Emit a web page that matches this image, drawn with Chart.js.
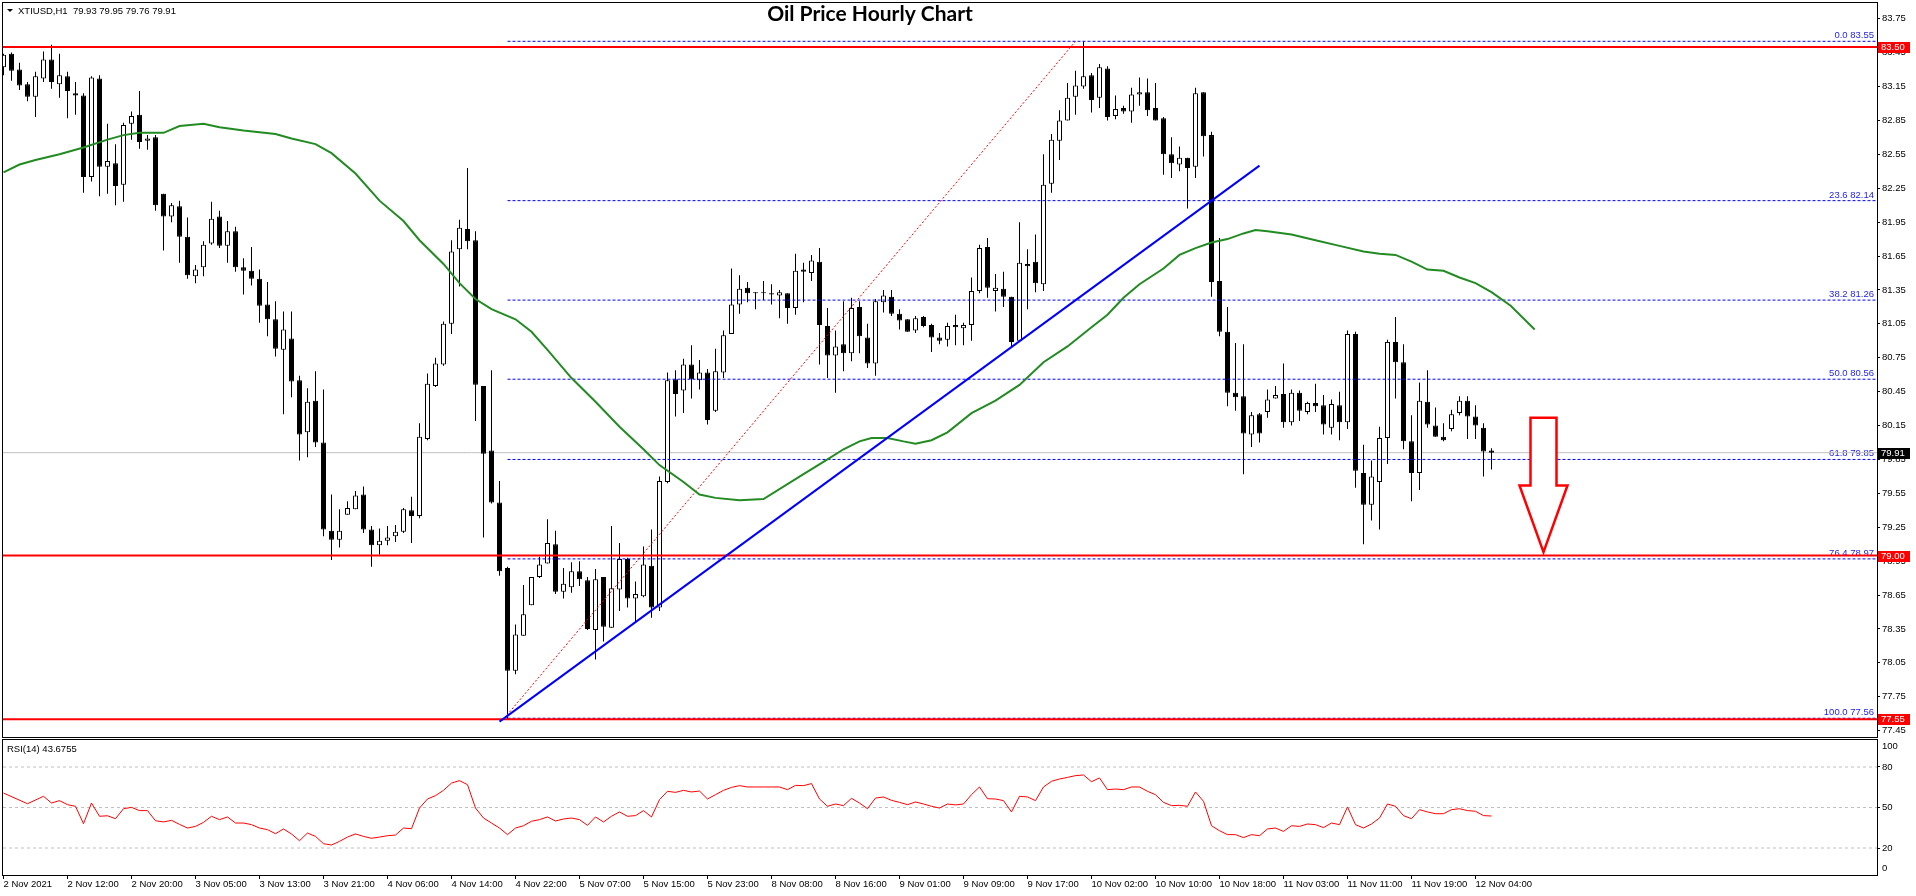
<!DOCTYPE html>
<html>
<head>
<meta charset="utf-8">
<title>Oil Price Hourly Chart</title>
<script src="https://cdn.jsdelivr.net/npm/chart.js@4.4.0/dist/chart.umd.min.js"></script>
<style>
  html, body { margin: 0; padding: 0; background: #fff; }
  #wrap { position: relative; width: 1916px; height: 896px; overflow: hidden; }
  #priceChart { position: absolute; left: 0; top: 0; }
  #rsiChart { position: absolute; left: 0; top: 736px; }
</style>
</head>
<body>
<div id="wrap">
  <canvas id="priceChart" width="1916" height="740"></canvas>
  <canvas id="rsiChart" width="1916" height="160"></canvas>
</div>
<script>
// hourly bars of XTIUSD, 2 Nov 2021 .. 12 Nov 2021 (one entry per bar)
const barOpen = [
  83.32, 83.44, 83.30, 83.17, 83.06, 83.22, 83.39, 83.17, 83.24, 83.09,
  83.07, 82.35, 83.22, 82.44, 82.47, 82.28, 82.82, 82.90, 82.67, 82.70,
  82.20, 82.00, 82.09, 81.82, 81.47, 81.55, 81.76, 82.00, 81.74, 81.87,
  81.55, 81.52, 81.45, 81.22, 81.09, 80.82, 80.92, 80.55, 80.09, 80.37,
  80.00, 79.22, 79.14, 79.36, 79.41, 79.54, 79.23, 79.09, 79.13, 79.17,
  79.21, 79.40, 79.35, 80.03, 80.50, 80.69, 81.05, 81.71, 81.89, 81.79,
  80.50, 79.93, 79.47, 78.89, 77.98, 78.29, 78.56, 78.81, 78.93, 79.10,
  78.68, 78.72, 78.86, 78.78, 78.34, 78.81, 78.36, 78.70, 78.97, 78.62,
  78.64, 78.91, 78.54, 79.65, 80.56, 80.46, 80.69, 80.55, 80.62, 80.28,
  80.62, 80.96, 81.22, 81.37, 81.33, 81.32, 81.32, 81.30, 81.32, 81.19,
  81.53, 81.50, 81.60, 81.03, 80.77, 80.87, 80.79, 81.20, 80.93, 80.70,
  81.24, 81.29, 81.14, 81.09, 80.99, 81.11, 81.04, 80.93, 80.91, 81.04,
  81.01, 81.04, 81.34, 81.73, 81.34, 81.36, 81.29, 80.90, 81.58, 81.60,
  81.40, 82.29, 82.67, 82.85, 83.06, 83.15, 83.25, 83.05, 83.31, 82.89,
  82.96, 82.93, 83.08, 83.10, 82.96, 82.87, 82.55, 82.46, 82.52, 82.44,
  83.10, 82.72, 81.43, 80.98, 80.44, 80.41, 80.07, 80.25, 80.27, 80.39,
  80.43, 80.18, 80.44, 80.27, 80.35, 80.33, 80.13, 80.33, 80.18, 80.96,
  79.73, 79.45, 79.65, 80.04, 80.89, 80.71, 80.01, 79.73, 80.36, 80.15,
  80.05, 80.12, 80.26, 80.37, 80.23, 80.13, 79.93
];
const barHigh = [
  83.44, 83.45, 83.36, 83.19, 83.28, 83.46, 83.52, 83.44, 83.28, 83.19,
  83.09, 83.24, 83.25, 82.82, 82.64, 82.83, 82.93, 83.11, 82.72, 82.72,
  82.20, 82.12, 82.14, 81.99, 81.57, 81.78, 82.13, 82.05, 81.96, 81.91,
  81.63, 81.73, 81.53, 81.42, 81.25, 81.16, 81.16, 80.59, 80.48, 80.63,
  80.47, 79.54, 79.41, 79.48, 79.57, 79.61, 79.26, 79.24, 79.26, 79.27,
  79.42, 79.52, 80.17, 80.61, 80.75, 81.07, 81.79, 81.97, 82.43, 81.87,
  80.50, 80.64, 79.66, 78.90, 78.39, 78.74, 78.81, 78.99, 79.32, 79.22,
  78.89, 78.94, 78.95, 78.81, 78.88, 78.81, 79.26, 79.11, 78.98, 78.77,
  79.08, 79.23, 79.70, 80.62, 80.64, 80.74, 80.86, 80.73, 80.65, 80.83,
  80.99, 81.54, 81.48, 81.42, 81.33, 81.43, 81.40, 81.35, 81.32, 81.67,
  81.59, 81.66, 81.72, 81.19, 80.99, 81.25, 81.28, 81.25, 81.05, 81.27,
  81.35, 81.35, 81.18, 81.09, 81.12, 81.12, 81.05, 80.97, 81.06, 81.13,
  81.06, 81.46, 81.75, 81.81, 81.49, 81.51, 81.29, 81.95, 81.71, 81.84,
  82.55, 82.73, 82.94, 83.18, 83.29, 83.55, 83.27, 83.35, 83.33, 83.07,
  82.98, 83.14, 83.23, 83.22, 83.18, 82.88, 82.70, 82.62, 82.52, 83.14,
  83.10, 82.75, 81.81, 81.20, 80.88, 80.87, 80.27, 80.26, 80.47, 80.50,
  80.70, 80.47, 80.46, 80.36, 80.52, 80.42, 80.38, 80.45, 80.99, 80.98,
  79.98, 79.84, 80.14, 80.91, 81.11, 80.87, 80.24, 80.53, 80.64, 80.31,
  80.17, 80.29, 80.41, 80.41, 80.33, 80.17, 79.95
];
const barLow = [
  83.25, 83.20, 83.12, 83.02, 82.88, 83.19, 83.13, 83.05, 82.87, 82.90,
  82.21, 82.31, 82.18, 82.20, 82.10, 82.13, 82.68, 82.60, 82.59, 82.05,
  81.70, 81.95, 81.59, 81.45, 81.41, 81.47, 81.75, 81.72, 81.59, 81.51,
  81.31, 81.39, 81.06, 80.94, 80.76, 80.25, 80.40, 79.84, 79.87, 79.96,
  79.17, 78.96, 79.07, 79.36, 79.41, 79.20, 78.90, 79.01, 79.09, 79.12,
  79.20, 79.11, 79.33, 80.02, 80.49, 80.68, 80.96, 81.38, 81.71, 80.19,
  79.16, 79.46, 78.82, 77.55, 77.95, 78.29, 78.56, 78.80, 78.93, 78.66,
  78.62, 78.67, 78.73, 78.34, 78.08, 78.24, 78.36, 78.51, 78.54, 78.41,
  78.63, 78.45, 78.51, 79.64, 80.23, 80.26, 80.39, 80.47, 80.16, 80.27,
  80.57, 80.96, 81.14, 81.24, 81.18, 81.26, 81.22, 81.10, 81.05, 81.13,
  81.24, 81.43, 80.69, 80.57, 80.44, 80.63, 80.72, 80.79, 80.66, 80.59,
  81.15, 81.12, 81.00, 80.98, 80.97, 81.02, 80.80, 80.87, 80.85, 80.86,
  80.86, 80.90, 81.32, 81.28, 81.16, 81.20, 80.84, 80.90, 81.18, 81.33,
  81.34, 82.21, 82.50, 82.85, 82.90, 83.13, 82.92, 82.96, 82.85, 82.86,
  82.91, 82.83, 82.98, 82.89, 82.85, 82.37, 82.34, 82.40, 82.07, 82.34,
  82.53, 81.29, 80.94, 80.32, 80.28, 79.72, 79.96, 80.00, 80.22, 80.39,
  80.13, 80.15, 80.19, 80.25, 80.27, 80.07, 80.07, 80.02, 80.12, 79.60,
  79.10, 79.31, 79.23, 79.81, 80.39, 79.94, 79.48, 79.58, 80.13, 80.05,
  80.01, 80.10, 80.24, 80.03, 80.03, 79.70, 79.76
];
const barClose = [
  83.43, 83.29, 83.16, 83.06, 83.24, 83.39, 83.19, 83.25, 83.11, 83.07,
  82.35, 83.23, 82.44, 82.49, 82.27, 82.81, 82.89, 82.66, 82.69, 82.10,
  82.00, 82.10, 81.82, 81.48, 81.53, 81.75, 81.98, 81.74, 81.87, 81.55,
  81.52, 81.45, 81.21, 81.09, 80.83, 81.00, 80.54, 80.07, 80.36, 80.00,
  79.23, 79.14, 79.22, 79.42, 79.53, 79.23, 79.09, 79.13, 79.16, 79.21,
  79.41, 79.35, 80.05, 80.52, 80.70, 81.05, 81.69, 81.90, 81.78, 80.51,
  79.90, 79.47, 78.86, 77.98, 78.30, 78.48, 78.81, 78.92, 79.11, 78.68,
  78.75, 78.86, 78.79, 78.35, 78.79, 78.37, 78.71, 78.97, 78.62, 78.66,
  78.92, 78.54, 79.66, 80.55, 80.43, 80.69, 80.56, 80.62, 80.20, 80.63,
  80.95, 81.22, 81.36, 81.32, 81.32, 81.33, 81.31, 81.33, 81.19, 81.52,
  81.51, 81.61, 81.04, 80.77, 80.85, 80.79, 81.19, 80.94, 80.70, 81.25,
  81.30, 81.14, 81.08, 80.98, 81.10, 81.03, 80.93, 80.90, 81.03, 81.02,
  81.04, 81.34, 81.72, 81.37, 81.37, 81.29, 80.89, 81.59, 81.56, 81.41,
  82.28, 82.68, 82.85, 83.05, 83.16, 83.24, 83.03, 83.32, 82.88, 82.95,
  82.93, 83.08, 83.10, 82.94, 82.85, 82.55, 82.47, 82.52, 82.43, 83.09,
  82.71, 81.42, 80.98, 80.44, 80.40, 80.08, 80.24, 80.08, 80.38, 80.42,
  80.18, 80.44, 80.28, 80.35, 80.32, 80.16, 80.34, 80.18, 80.96, 79.75,
  79.45, 79.70, 80.04, 80.89, 80.71, 80.01, 79.73, 80.37, 80.16, 80.05,
  80.02, 80.25, 80.37, 80.23, 80.15, 79.92, 79.91
];

// RSI(14), one value per bar (null where not read)
const rsiValues = [
  60.7, null, null, 52.8, null, 58.3, 53.3, 55.1, 52.1, 50.9,
  38.0, 53.3, 43.5, 43.9, 41.7, 49.1, 50.1, 47.7, 47.7, 40.2,
  39.3, 40.5, 37.5, 34.8, 36.0, 39.0, 43.5, 41.0, 43.0, 38.5,
  38.5, 37.3, 34.8, 33.6, 30.6, 34.1, 30.4, 25.4, 31.1, 28.6,
  23.2, 22.2, 24.9, 28.1, 30.4, 28.6, 27.2, 28.1, 29.1, 29.6,
  34.8, 34.3, 49.6, 56.3, 58.8, 62.7, 68.1, 69.9, 66.9, 49.6,
  42.2, 38.5, 34.8, 29.9, 34.8, 36.5, 39.8, 41.0, 43.0, 40.0,
  41.5, 42.2, 41.0, 36.8, 43.0, 39.3, 43.5, 46.7, 43.5, 44.0,
  47.7, 43.0, 55.8, 62.0, 61.2, 62.7, 61.5, 62.2, 56.3, 59.5,
  62.7, 64.9, 66.2, 65.2, 65.2, 65.2, 65.2, 65.2, 63.2, 66.4,
  66.2, 67.7, 56.3, 50.9, 52.6, 51.4, 56.8, 53.3, 49.1, 57.0,
  57.8, 55.3, 53.8, 52.1, 54.1, 52.6, 50.9, 49.6, 52.6, 51.9,
  52.6, 59.5, 65.2, 56.5, 56.3, 55.1, 46.7, 58.3, 57.8, 55.1,
  65.2, 69.4, 71.1, 72.3, 73.6, 74.1, 69.1, 71.9, 63.2, 63.7,
  63.2, 65.2, 65.2, 62.0, 59.5, 53.8, 51.4, 51.6, 50.9, 61.5,
  54.6, 36.5, 32.8, 29.9, 29.9, 27.7, 29.9, 29.1, 34.1, 34.8,
  32.3, 36.5, 36.0, 37.8, 37.3, 35.1, 38.5, 37.3, 50.4, 37.3,
  34.8, 37.8, 42.2, 52.6, 50.9, 44.0, 41.7, 48.4, 46.7, 45.4,
  45.4, 48.4, 49.1, 47.7, 47.2, 44.0, 43.7
];

// moving average, read at these bar positions
const smaBars = [0, 2, 4, 7, 10, 13, 15, 17, 20, 22, 25, 27, 30, 34, 36, 39, 41, 44, 47, 50,
  52, 55, 57, 59, 61, 64, 66, 68, 71, 74, 77, 80, 82, 85, 87, 89, 92, 95, 100, 103,
  105, 107, 108.5, 110.5, 112.5, 114, 116, 118, 121, 124, 127, 130, 133, 136, 138, 140, 142, 145, 147, 149,
  151, 153, 155, 156.5, 158, 161, 164, 167, 170, 172, 174, 176, 178, 180, 182, 184, 186, 188.4, 191.4];
const smaValues = [82.39, 82.46, 82.50, 82.55, 82.61, 82.68, 82.72, 82.74, 82.74, 82.80, 82.82, 82.79, 82.76, 82.73, 82.69, 82.64, 82.56, 82.38, 82.14, 81.96,
  81.79, 81.58, 81.41, 81.27, 81.18, 81.09, 80.98, 80.82, 80.57, 80.36, 80.14, 79.94, 79.80, 79.65, 79.54, 79.51, 79.49, 79.50, 79.72, 79.85,
  79.94, 80.01, 80.04, 80.04, 80.01, 79.99, 80.02, 80.09, 80.26, 80.37, 80.51, 80.71, 80.85, 81.02, 81.13, 81.28, 81.40, 81.54, 81.66, 81.72,
  81.77, 81.80, 81.85, 81.88, 81.87, 81.84, 81.79, 81.74, 81.69, 81.67, 81.66, 81.60, 81.53, 81.52, 81.46, 81.41, 81.33, 81.21, 81.00];

// time axis labels, one every 8 bars
const timeLabels = ['2 Nov 2021', '2 Nov 12:00', '2 Nov 20:00', '3 Nov 05:00', '3 Nov 13:00', '3 Nov 21:00',
  '4 Nov 06:00', '4 Nov 14:00', '4 Nov 22:00', '5 Nov 07:00', '5 Nov 15:00', '5 Nov 23:00',
  '8 Nov 08:00', '8 Nov 16:00', '9 Nov 01:00', '9 Nov 09:00', '9 Nov 17:00', '10 Nov 02:00',
  '10 Nov 10:00', '10 Nov 18:00', '11 Nov 03:00', '11 Nov 11:00', '11 Nov 19:00', '12 Nov 04:00'];
const labelEvery = 8;

const priceTicks = [83.75, 83.45, 83.15, 82.85, 82.55, 82.25, 81.95, 81.65, 81.35, 81.05, 80.75,
  80.45, 80.15, 79.85, 79.55, 79.25, 78.95, 78.65, 78.35, 78.05, 77.75, 77.45];
const rsiLevels = [80, 50, 20];

const keyLevels = [83.50, 79.00, 77.55];
const fibRatios = ['0.0', '23.6', '38.2', '50.0', '61.8', '76.4', '100.0'];
const fibPrices = [83.55, 82.14, 81.26, 80.56, 79.85, 78.97, 77.56];
const fibLow = { bar: 62.6, price: 77.56 };
const fibHigh = { bar: 134, price: 83.55 };
const trendFrom = { bar: 62, price: 77.53 };
const trendTo = { bar: 157, price: 82.45 };
const lastBar = { open: 79.93, high: 79.95, low: 79.76, close: 79.91 };
const rsiNow = 43.6755;

// view window (bar units) shared by both panels
const xMin = -0.0625;
const xMax = xMin + 1874 / 8;
const FONT = '"Liberation Sans", Arial, sans-serif';

Chart.defaults.font.family = FONT;
Chart.defaults.font.size = 9.5;
Chart.defaults.color = '#000';

const barIndex = barOpen.map((_, i) => i);

function hLine(value, from, color, width, dash, order) {
  return {
    type: 'line',
    data: [{ x: from, y: value }, { x: xMax, y: value }],
    borderColor: color, borderWidth: width, borderDash: dash || [],
    pointRadius: 0, fill: false, order: order
  };
}

const fixAxis = (w, h) => (scale) => {
  if (w !== null) scale.width = w;
  if (h !== null) scale.height = h;
  scale.paddingTop = 0; scale.paddingBottom = 0;
  scale.paddingLeft = 0; scale.paddingRight = 0;
};

const mainOverlay = {
  id: 'mainOverlay',
  beforeDatasetsDraw(chart) {
    const { ctx, chartArea, scales: { y } } = chart;
    ctx.save();
    ctx.font = '9.5px ' + FONT;
    ctx.fillStyle = '#2424f0';
    ctx.textAlign = 'right';
    ctx.textBaseline = 'bottom';
    fibPrices.forEach((p, k) => {
      ctx.fillText(fibRatios[k] + ' ' + p.toFixed(2), chartArea.right - 3, Math.round(y.getPixelForValue(p)) - 1);
    });
    ctx.restore();
  },
  afterDatasetsDraw(chart) {
    // sell arrow
    const { ctx, scales: { x, y } } = chart;
    const cx = x.getPixelForValue(192.5);
    const top = y.getPixelForValue(80.22);
    const neck = y.getPixelForValue(79.62);
    const tip = y.getPixelForValue(79.03);
    const sw = 13, hw = 24;
    ctx.save();
    ctx.beginPath();
    ctx.moveTo(cx - sw, top); ctx.lineTo(cx + sw, top); ctx.lineTo(cx + sw, neck);
    ctx.lineTo(cx + hw, neck); ctx.lineTo(cx, tip); ctx.lineTo(cx - hw, neck);
    ctx.lineTo(cx - sw, neck); ctx.closePath();
    ctx.fillStyle = '#fff'; ctx.fill();
    ctx.lineWidth = 2.5; ctx.strokeStyle = '#ff0000'; ctx.lineJoin = 'miter'; ctx.stroke();
    ctx.restore();
  },
  afterDraw(chart) {
    const { ctx, chartArea, scales: { y } } = chart;
    ctx.save();
    ctx.strokeStyle = '#000'; ctx.lineWidth = 1;
    ctx.strokeRect(chartArea.left - 0.5, chartArea.top - 0.5, chartArea.right - chartArea.left + 1, chartArea.bottom - chartArea.top + 1);

    // symbol header
    ctx.fillStyle = '#000';
    ctx.beginPath(); ctx.moveTo(7, 9); ctx.lineTo(13, 9); ctx.lineTo(10, 12); ctx.closePath(); ctx.fill();
    ctx.font = '9.5px ' + FONT;
    ctx.textAlign = 'left'; ctx.textBaseline = 'middle';
    ctx.fillText('XTIUSD,H1  ' + [lastBar.open, lastBar.high, lastBar.low, lastBar.close].map(v => v.toFixed(2)).join(' '), 18, 11);

    // title
    ctx.font = 'bold 21px Lato, ' + FONT;
    ctx.textAlign = 'center'; ctx.textBaseline = 'alphabetic';
    ctx.fillText('Oil Price Hourly Chart', 870, 21);

    // price boxes on the axis
    ctx.font = '9.5px ' + FONT;
    ctx.textAlign = 'left'; ctx.textBaseline = 'middle';
    const box = (value, bg) => {
      const py = Math.round(y.getPixelForValue(value));
      ctx.fillStyle = bg;
      ctx.fillRect(chartArea.right + 1, py - 5, 32, 11);
      ctx.fillStyle = '#fff';
      ctx.fillText(value.toFixed(2), chartArea.right + 4, py + 0.5);
    };
    keyLevels.forEach(v => box(v, '#ff0000'));
    box(lastBar.close, '#000');
    ctx.restore();
  }
};

new Chart(document.getElementById('priceChart'), {
  type: 'bar',
  data: {
    datasets: [
      {
        label: 'bodies',
        data: barIndex.map(i => ({ x: i, y: [barOpen[i], barClose[i]] })),
        backgroundColor: barIndex.map(i => barClose[i] >= barOpen[i] ? '#ffffff' : '#000000'),
        borderColor: '#000', borderWidth: 1, borderSkipped: false,
        barThickness: 5, minBarLength: 1, grouped: false, inflateAmount: 0, order: 9
      },
      {
        label: 'wicks',
        data: barIndex.map(i => ({ x: i, y: [barLow[i], barHigh[i]] })),
        backgroundColor: '#000', borderWidth: 0,
        barThickness: 1, grouped: false, inflateAmount: 0, order: 10
      },
      hLine(lastBar.close, xMin, '#c0c0c0', 1, null, 11),
      ...fibPrices.map(p => hLine(p, fibLow.bar + 0.4, '#0000ff', 1, [3, 2], 8)),
      ...keyLevels.map(p => hLine(p, xMin, '#ff0000', 2, null, 6)),
      {
        type: 'line', label: 'fib',
        data: [{ x: fibLow.bar, y: fibLow.price }, { x: fibHigh.bar, y: fibHigh.price }],
        borderColor: '#ff0000', borderWidth: 1, borderDash: [2, 2], pointRadius: 0, order: 5
      },
      {
        type: 'line', label: 'sma',
        data: smaBars.map((b, k) => ({ x: b, y: smaValues[k] })),
        borderColor: '#228b22', borderWidth: 2, pointRadius: 0, tension: 0, order: 4
      },
      {
        type: 'line', label: 'trend',
        data: [{ x: trendFrom.bar, y: trendFrom.price }, { x: trendTo.bar, y: trendTo.price }],
        borderColor: '#0000ff', borderWidth: 2, pointRadius: 0, order: 3
      }
    ]
  },
  options: {
    responsive: false, animation: false, events: [],
    layout: { padding: { left: 3, top: 3, right: 0, bottom: 3 } },
    plugins: { legend: { display: false }, tooltip: { enabled: false } },
    scales: {
      x: { type: 'linear', min: xMin, max: xMax, offset: false, display: false },
      y: {
        position: 'right', min: 77.394, max: 83.889,
        afterBuildTicks: (s) => { s.ticks = priceTicks.map(v => ({ value: v })); },
        afterFit: fixAxis(39, null),
        ticks: { autoSkip: false, padding: 2, callback: (v) => Number(v).toFixed(2) },
        grid: { drawOnChartArea: false, drawTicks: true, tickLength: 3, color: '#000' },
        border: { display: false }
      }
    }
  },
  plugins: [mainOverlay]
});

const rsiOverlay = {
  id: 'rsiOverlay',
  afterDraw(chart) {
    const { ctx, chartArea, scales: { y } } = chart;
    ctx.save();
    ctx.strokeStyle = '#000'; ctx.lineWidth = 1;
    ctx.strokeRect(chartArea.left - 0.5, chartArea.top - 0.5, chartArea.right - chartArea.left + 1, chartArea.bottom - chartArea.top + 1);
    ctx.fillStyle = '#000';
    ctx.font = '9.5px ' + FONT;
    ctx.textAlign = 'left'; ctx.textBaseline = 'middle';
    ctx.fillText('RSI(14) ' + rsiNow.toFixed(4), 7, chartArea.top + 9);
    ctx.fillText('100', chartArea.right + 5, y.getPixelForValue(100) + 6);
    ctx.fillText('0', chartArea.right + 5, y.getPixelForValue(0) - 7);
    ctx.restore();
  }
};

new Chart(document.getElementById('rsiChart'), {
  type: 'line',
  data: {
    datasets: [
      ...rsiLevels.map(v => hLine(v, xMin, '#c0c0c0', 1, [3, 3], 2)),
      {
        label: 'RSI',
        data: barIndex.map(i => ({ x: i, y: rsiValues[i] })),
        borderColor: '#ff0000', borderWidth: 1, pointRadius: 0, tension: 0, spanGaps: true, order: 1
      }
    ]
  },
  options: {
    responsive: false, animation: false, events: [],
    layout: { padding: { left: 3, top: 4, right: 0, bottom: 0 } },
    plugins: { legend: { display: false }, tooltip: { enabled: false } },
    scales: {
      x: {
        type: 'linear', min: xMin, max: xMax, offset: false,
        afterBuildTicks: (s) => { s.ticks = timeLabels.map((_, k) => ({ value: k * labelEvery })); },
        afterFit: fixAxis(null, 21),
        ticks: {
          autoSkip: false, maxRotation: 0, minRotation: 0, align: 'start', padding: 0,
          callback: (v) => timeLabels[Math.round(v / labelEvery)]
        },
        grid: { drawOnChartArea: false, drawTicks: true, tickLength: 4, color: '#000' },
        border: { display: false }
      },
      y: {
        position: 'right', min: 0, max: 100,
        afterBuildTicks: (s) => { s.ticks = rsiLevels.map(v => ({ value: v })); },
        afterFit: fixAxis(39, null),
        ticks: { autoSkip: false, padding: 2 },
        grid: { drawOnChartArea: false, drawTicks: true, tickLength: 3, color: '#000' },
        border: { display: false }
      }
    }
  },
  plugins: [rsiOverlay]
});
</script>
</body>
</html>
